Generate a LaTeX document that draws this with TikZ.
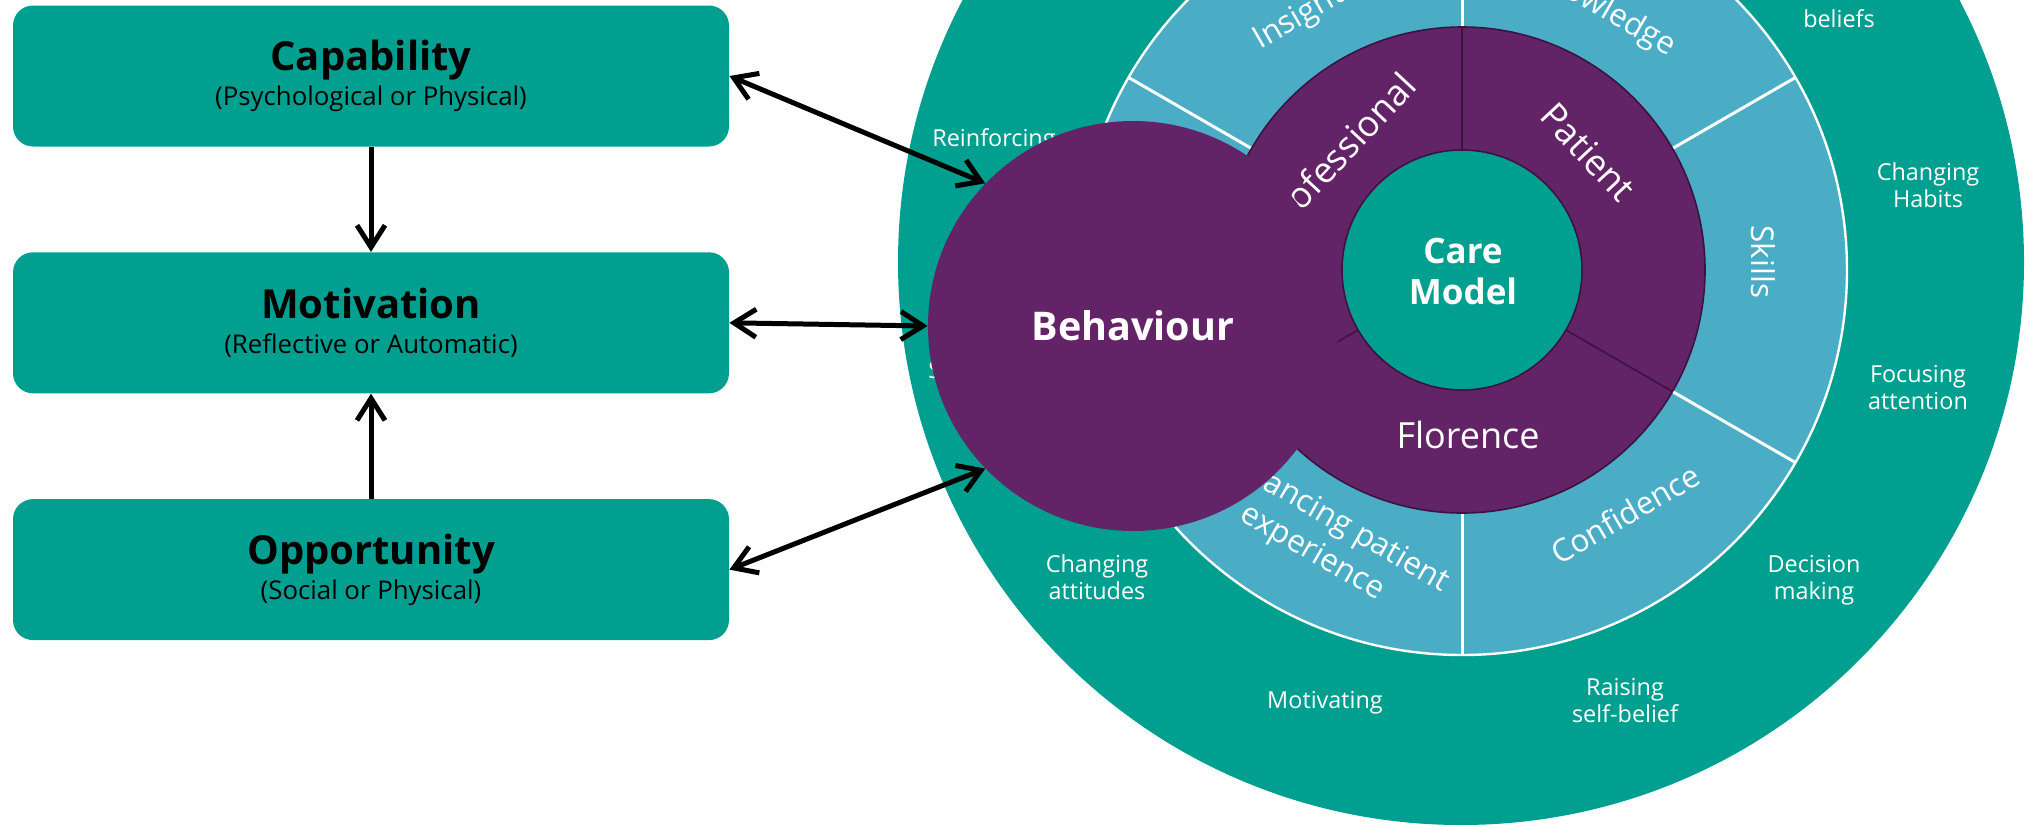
\documentclass[tikz,border=0pt]{standalone}
\usepackage{fontspec}
\setmainfont{Open Sans}
\usetikzlibrary{positioning,
	arrows.meta}
\definecolor{comteal}{HTML}{009F8F}
\definecolor{ringblue}{HTML}{4BACC6}
\definecolor{carepurple}{HTML}{632467}
\definecolor{darkline}{HTML}{3B1340}
\tikzstyle{comb}=[fill=comteal, rounded corners=10pt, minimum width=358pt,
		minimum height=70.5pt, align=center, inner sep=0, text=black,
		font=\fontsize{12.9}{17.3}\selectfont]
\tikzstyle{ttl}=[font=\fontsize{17.5}{20.5}\selectfont\bfseries, text=white, align=center]
\tikzstyle{purtxt}=[font=\fontsize{18}{20.5}\selectfont, text=white, align=center]
\tikzstyle{ringtxt}=[font=\fontsize{15.7}{19.5}\selectfont, text=white, align=center]
\tikzstyle{outtxt}=[font=\fontsize{11.7}{13.5}\selectfont, text=white, align=center, inner sep=0]
\tikzstyle{twoway}=[line width=2.5pt, {Straight Barb[length=11pt,width=14pt]}-{Straight Barb[length=11pt,width=14pt]}]
\tikzstyle{oneway}=[line width=2.5pt, -{Straight Barb[length=11pt,width=14pt]}]
\newcommand{\boxttl}[1]{{\fontsize{20}{17.3}\selectfont\bfseries #1}}

\begin{document}
\begin{tikzpicture}[x=0.5pt, y=0.5pt]
                \useasboundingbox (0,0) rectangle (2029,-826);
                \clip (0,0) rectangle (2029,-826);
                \coordinate (c) at (1462,-270);
                \fill[comteal] (1461,-262) circle (563);
                \draw[white, line width=1.2pt, fill=ringblue] (c) circle (385);
                \foreach \a in {30,90,...,330}
                    \draw[white, line width=1.5pt] ([shift={(\a:243)}]c) -- ([shift={(\a:385)}]c);
                \draw[darkline, line width=0.8pt, fill=carepurple] (c) circle (243);
                \foreach \a in {90,-30,210}
                    \draw[darkline, line width=0.8pt] ([shift={(\a:120)}]c) -- ([shift={(\a:243)}]c);
                \draw[darkline, line width=0.8pt, fill=comteal] (c) circle (120);
                \node[ttl] (care) at (1463,-271) {Care\\Model};
                \node[purtxt, rotate=-47] (pat) at (1588,-152) {Patient};
                \node[purtxt, rotate=47] (prof) at (1338,-154) {Professional};
                \node[purtxt] (flo) at (1468,-435) {Florence};
                \node[ringtxt, rotate=-30] (know) at (1603,-9) {Knowledge};
                \node[ringtxt, rotate=30] (ins) at (1299,-18) {Insight};
                \node[ringtxt, rotate=-90] (skl) at (1763,-262) {Skills};
                \node[ringtxt, rotate=30] (conf) at (1625,-514) {Confidence};
                \node[ringtxt, rotate=-30] (enh) at (1322,-536) {Enhancing patient\\experience};
                \node[outtxt] (bel) at (1839,-19) {beliefs};
                \node[outtxt] (hab) at (1928,-185) {Changing\\Habits};
                \node[outtxt] (foc) at (1918,-388) {Focusing\\attention};
                \node[outtxt] (dec) at (1814,-580) {Decision\\making};
                \node[outtxt] (rai) at (1625,-701) {Raising\\self-belief};
                \node[outtxt] (mtv) at (1325,-703) {Motivating};
                \node[outtxt] (att) at (1097,-577) {Changing\\attitudes};
                \node[outtxt] (rei) at (994,-140) {Reinforcing};
                \node[outtxt, anchor=west] (sfr) at (928,-370) {S};
                \node[circle, fill=carepurple, minimum size=205pt, inner sep=0, text=white,
                    font=\fontsize{19.75}{22}\selectfont\bfseries] (beh) at (1133,-326) {Behaviour};
                \node[comb] (cap) at (371,-76) {\boxttl{Capability}\\(Psychological or Physical)};
                \node[comb, below=52.5pt of cap] (mot) {\boxttl{Motivation}\\(Reflective or Automatic)};
                \node[comb, below=52.5pt of mot] (opp) {\boxttl{Opportunity}\\(Social or Physical)};
                \draw[oneway] (cap) -- (mot);
                \draw[oneway] (opp) -- (mot);
                \draw[twoway] (cap.east) -- (beh.136);
                \draw[twoway] (mot.east) -- (beh.west);
                \draw[twoway] (opp.east) -- (beh.-136);
\end{tikzpicture}
\end{document}
